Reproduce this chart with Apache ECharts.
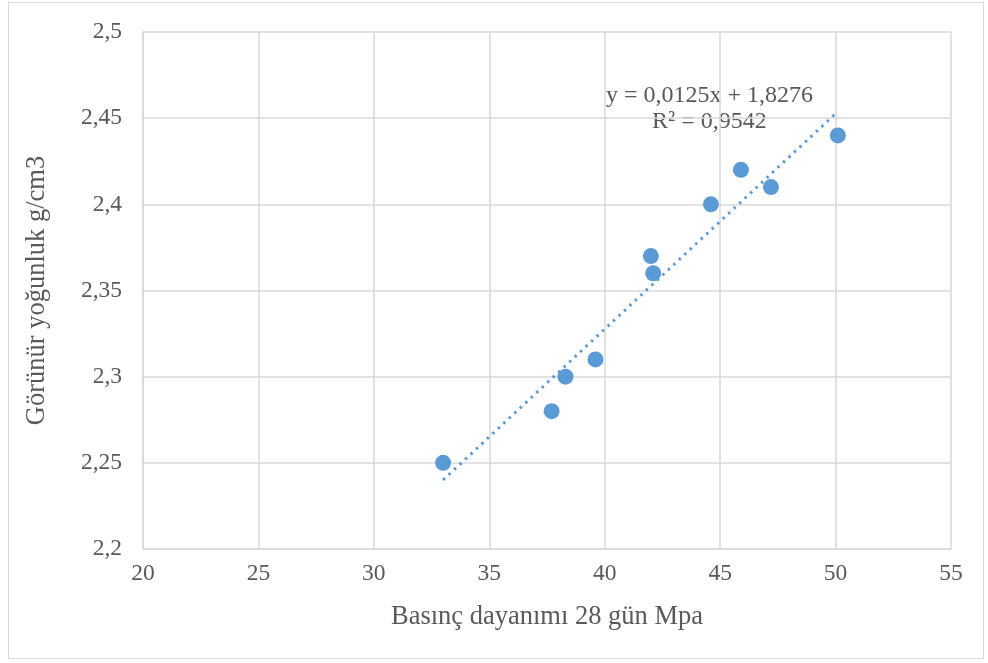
<!DOCTYPE html>
<html>
<head>
<meta charset="utf-8">
<script src="https://cdn.jsdelivr.net/npm/echarts@6/dist/echarts.min.js"></script>
<style>
  html, body { margin: 0; padding: 0; background: #fff; }
  #frame { position: absolute; left: 8px; top: 2px; width: 974px; height: 655px; border: 1px solid #d9d9d9; }
  #chart { width: 988px; height: 663px; position: absolute; left: 0; top: 0; }
</style>
</head>
<body>
<div id="frame"></div>
<div id="chart"></div>
<script>
// veriler
let strength = [33.0, 37.7, 38.3, 39.6, 42.0, 42.1, 44.6, 45.9, 47.2, 50.1];
let density = [2.25, 2.28, 2.30, 2.31, 2.37, 2.36, 2.40, 2.42, 2.41, 2.44];
let slope = 0.0125;
let intercept = 1.8276;
let rSquared = '0,9542';

let points = strength.map(function (x, i) { return [x, density[i]]; });
let trendX = [33.0, 50.1];
let trend = trendX.map(function (x) { return [x, slope * x + intercept]; });

function comma(v) {
    return String(v).replace('.', ',');
}

let textColor = '#595959';
let font = 'Liberation Serif';

let myChart = echarts.init(document.getElementById('chart'));
let option = {
    animation: false,
    grid: { left: 143, top: 32, right: 37, bottom: 114 },
    xAxis: {
        type: 'value',
        min: 20, max: 55, interval: 5,
        name: 'Basınç dayanımı 28 gün Mpa',
        nameLocation: 'middle',
        nameGap: 55,
        nameTextStyle: { fontFamily: font, fontSize: 26.5, color: textColor },
        axisLine: { show: true, lineStyle: { color: '#d9d9d9', width: 1.5 } },
        axisTick: { show: false },
        axisLabel: { fontFamily: font, fontSize: 23.5, color: textColor, margin: 13, formatter: comma },
        splitLine: { lineStyle: { color: '#d9d9d9', width: 1.5 } }
    },
    yAxis: {
        type: 'value',
        min: 2.2, max: 2.5, interval: 0.05,
        name: 'Görünür yoğunluk g/cm3',
        nameLocation: 'middle',
        nameGap: 92,
        nameTextStyle: { fontFamily: font, fontSize: 26.5, color: textColor },
        axisLine: { show: true, lineStyle: { color: '#d9d9d9', width: 1.5 } },
        axisTick: { show: false },
        axisLabel: { fontFamily: font, fontSize: 23.5, color: textColor, margin: 21, formatter: comma },
        splitLine: { lineStyle: { color: '#d9d9d9', width: 1.5 } }
    },
    series: [{
        type: 'line',
        data: trend,
        symbol: 'none',
        lineStyle: { color: '#5b9bd5', width: 3, type: [2.5, 5] },
        z: 1
    }, {
        type: 'scatter',
        data: points,
        symbolSize: 16,
        itemStyle: { color: '#5b9bd5', opacity: 1 },
        z: 2
    }],
    graphic: [{
        type: 'text',
        left: 606, top: 84,
        style: { text: 'y = 0,0125x + 1,8276', fontFamily: font, fontSize: 24, fill: textColor }
    }, {
        type: 'text',
        left: 652, top: 110,
        style: { text: 'R² = ' + rSquared, fontFamily: font, fontSize: 24, fill: textColor }
    }]
};
myChart.setOption(option);
</script>
</body>
</html>
